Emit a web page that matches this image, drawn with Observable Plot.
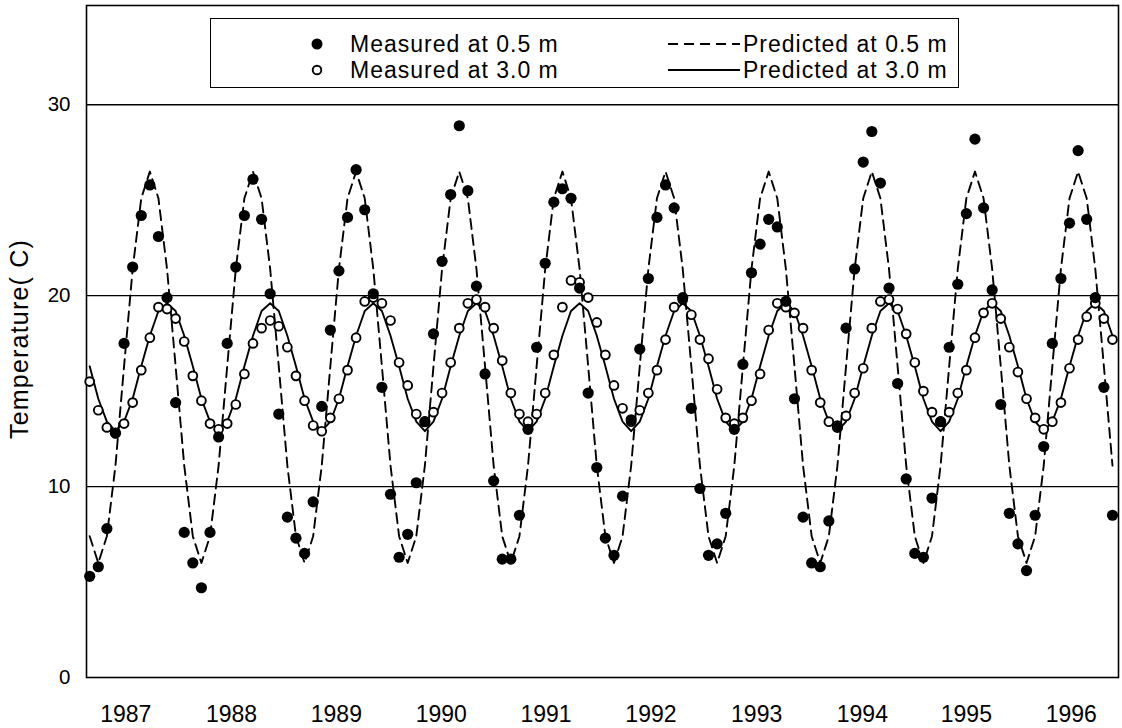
<!DOCTYPE html>
<html><head><meta charset="utf-8">
<script src="https://cdn.jsdelivr.net/npm/d3@7"></script>
<script src="https://cdn.jsdelivr.net/npm/@observablehq/plot@0.6"></script>
<style>
body{margin:0;background:#fff;font-family:"Liberation Sans",Arial,sans-serif;color:#000;}
#wrap{position:relative;width:1122px;height:728px;overflow:hidden;}
#legend{position:absolute;left:210px;top:18px;width:749px;height:70px;border:1.5px solid #000;background:#fff;box-sizing:border-box;font-size:23px;letter-spacing:1px;}
#legend .sym,#legend .txt{position:absolute;display:flex;align-items:center;height:26px;white-space:nowrap;}
#legend svg{display:block;}
</style></head>
<body>
<div id="wrap">
  <div id="chart"></div>
  <div id="legend"></div>
</div>
<script>
// Monthly samples (index 0 = first sample at left of plot)
const measured05 = [
5.3,5.8,7.8,12.8,17.5,21.5,24.2,25.8,23.1,19.9,14.4,7.6,
6.0,4.7,7.6,12.6,17.5,21.5,24.2,26.1,24.0,20.1,13.8,8.4,
7.3,6.5,9.2,14.2,18.2,21.3,24.1,26.6,24.5,20.1,15.2,9.6,
6.3,7.5,10.2,13.4,18.0,21.8,25.3,28.9,25.5,20.5,15.9,10.3,
6.2,6.2,8.5,13.0,17.3,21.7,24.9,25.6,25.1,20.4,14.9,11.0,
7.3,6.4,9.5,13.5,17.2,20.9,24.1,25.8,24.6,19.9,14.1,9.9,
6.4,7.0,8.6,13.0,16.4,21.2,22.7,24.0,23.6,19.7,14.6,8.4,
6.0,5.8,8.2,13.1,18.3,21.4,27.0,28.6,25.9,20.4,15.4,10.4,
6.5,6.3,9.4,13.4,17.3,20.6,24.3,28.2,24.6,20.3,14.3,8.6,
7.0,5.6,8.5,12.1,17.5,20.9,23.8,27.6,24.0,19.9,15.2,8.5];

const measured30 = [
15.5,14.0,13.1,12.8,13.3,14.4,16.1,17.8,19.4,19.3,18.8,17.6,
15.8,14.5,13.3,13.0,13.3,14.3,15.9,17.5,18.3,18.7,18.4,17.3,
15.8,14.5,13.2,12.9,13.6,14.6,16.1,17.8,19.7,19.9,19.6,18.7,
16.5,15.3,13.8,13.4,13.9,14.9,16.5,18.3,19.6,19.8,19.4,18.3,
16.6,14.9,13.8,13.4,13.8,14.9,16.9,19.4,20.8,20.7,19.9,18.6,
16.9,15.3,14.1,13.4,14.0,14.9,16.1,17.7,19.4,19.8,19.0,17.7,
16.7,15.1,13.6,13.3,13.6,14.5,15.9,18.2,19.6,19.4,19.1,18.3,
16.1,14.4,13.4,13.2,13.7,14.9,16.2,18.3,19.7,19.8,19.3,18.0,
16.5,15.0,13.9,13.4,13.9,14.9,16.1,17.8,19.1,19.6,18.8,17.3,
16.0,14.6,13.6,13.0,13.4,14.4,16.2,17.7,18.9,19.6,18.8,17.7];

const predicted05 = [
7.4,6.0,7.4,11.1,16.3,21.4,25.1,26.5,25.1,21.4,16.3,11.1,
7.4,6.0,7.4,11.1,16.3,21.4,25.1,26.5,25.1,21.4,16.3,11.1,
7.4,6.0,7.4,11.1,16.3,21.4,25.1,26.5,25.1,21.4,16.3,11.1,
7.4,6.0,7.4,11.1,16.3,21.4,25.1,26.5,25.1,21.4,16.3,11.1,
7.4,6.0,7.4,11.1,16.3,21.4,25.1,26.5,25.1,21.4,16.3,11.1,
7.4,6.0,7.4,11.1,16.3,21.4,25.1,26.5,25.1,21.4,16.3,11.1,
7.4,6.0,7.4,11.1,16.3,21.4,25.1,26.5,25.1,21.4,16.3,11.1,
7.4,6.0,7.4,11.1,16.3,21.4,25.1,26.5,25.1,21.4,16.3,11.1,
7.4,6.0,7.4,11.1,16.3,21.4,25.1,26.5,25.1,21.4,16.3,11.1,
7.4,6.0,7.4,11.1,16.3,21.4,25.1,26.5,25.1,21.4,16.3,11.1];

const predicted30 = [
16.3,14.6,13.4,12.9,13.4,14.6,16.3,17.9,19.2,19.6,19.2,17.9,
16.3,14.6,13.4,12.9,13.4,14.6,16.3,17.9,19.2,19.6,19.2,17.9,
16.3,14.6,13.4,12.9,13.4,14.6,16.3,17.9,19.2,19.6,19.2,17.9,
16.3,14.6,13.4,12.9,13.4,14.6,16.3,17.9,19.2,19.6,19.2,17.9,
16.3,14.6,13.4,12.9,13.4,14.6,16.3,17.9,19.2,19.6,19.2,17.9,
16.3,14.6,13.4,12.9,13.4,14.6,16.3,17.9,19.2,19.6,19.2,17.9,
16.3,14.6,13.4,12.9,13.4,14.6,16.3,17.9,19.2,19.6,19.2,17.9,
16.3,14.6,13.4,12.9,13.4,14.6,16.3,17.9,19.2,19.6,19.2,17.9,
16.3,14.6,13.4,12.9,13.4,14.6,16.3,17.9,19.2,19.6,19.2,17.9,
16.3,14.6,13.4,12.9,13.4,14.6,16.3,17.9,19.2,19.6,19.2,17.9];

// Year labels and their positions on the month-index axis (as placed in the original)
const yearLabels = ["1987","1988","1989","1990","1991","1992","1993","1994","1995","1996"];
const yearTickPos = [4.2,16.5,28.7,40.9,53.1,65.3,77.6,89.9,102.0,114.2];
const yTicks = [0,10,20,30];
const gridValues = [10,20,30];
const yTitle = "Temperature( C)";
const seriesNames = ["Measured at 0.5 m","Measured at 3.0 m","Predicted at 0.5 m","Predicted at 3.0 m"];

const rows = measured05.map((v,i) => ({i, m05:v, m30:measured30[i], p05:predicted05[i], p30:predicted30[i]}));

const chart = Plot.plot({
  width:1122, height:728,
  marginLeft:86, marginRight:4, marginTop:5, marginBottom:51,
  x:{domain:[-0.37,119.7]},
  y:{domain:[0,35.2]},
  style:{fontFamily:'"Liberation Sans",Arial,sans-serif', fontSize:"20px", color:"#000", background:"#fff"},
  marks:[
    Plot.ruleY(gridValues,{stroke:"#000",strokeWidth:1.3}),
    Plot.frame({stroke:"#000",strokeWidth:1.6}),
    Plot.axisX({ticks:yearTickPos, tickFormat:d => yearLabels[yearTickPos.indexOf(d)], tickSize:0, tickPadding:28, label:null, fontSize:23}),
    Plot.axisY({ticks:yTicks, tickSize:0, tickPadding:16, label:null, fontSize:20.5}),
    Plot.line(rows,{x:"i",y:"p05",stroke:"#000",strokeWidth:1.9,strokeDasharray:"10,6"}),
    Plot.line(rows,{x:"i",y:"p30",stroke:"#000",strokeWidth:1.9}),
    Plot.dot(rows,{x:"i",y:"m30",r:4.4,stroke:"#000",strokeWidth:1.9,fill:"#fff"}),
    Plot.dot(rows,{x:"i",y:"m05",r:5.6,fill:"#000",stroke:"none"})
  ]
});
document.getElementById("chart").appendChild(chart);

// Y-axis title
d3.select(chart).append("text")
  .attr("transform","translate(28,339) rotate(-90)")
  .attr("text-anchor","middle")
  .attr("font-size",25)
  .attr("letter-spacing",1.2)
  .attr("fill","#000")
  .text(yTitle);

// Legend
const legend = document.getElementById("legend");
const rowsY = [25,51];
const items = [
  {symLeft:96, txtLeft:139, row:0, sym:'<svg width="20" height="20"><circle cx="10" cy="10" r="5.5" fill="#000"/></svg>', text:seriesNames[0]},
  {symLeft:96, txtLeft:139, row:1, sym:'<svg width="20" height="20"><circle cx="10" cy="10" r="4.3" fill="#fff" stroke="#000" stroke-width="1.9"/></svg>', text:seriesNames[1]},
  {symLeft:457, txtLeft:532, row:0, sym:'<svg width="73" height="20"><line x1="0" y1="10" x2="72" y2="10" stroke="#000" stroke-width="1.9" stroke-dasharray="10,6"/></svg>', text:seriesNames[2]},
  {symLeft:457, txtLeft:532, row:1, sym:'<svg width="73" height="20"><line x1="0" y1="10" x2="72" y2="10" stroke="#000" stroke-width="1.9"/></svg>', text:seriesNames[3]}
];
for (const it of items) {
  const s = document.createElement("div");
  s.className = "sym";
  s.style.left = it.symLeft + "px";
  s.style.top = (rowsY[it.row] - 13) + "px";
  s.innerHTML = it.sym;
  legend.appendChild(s);
  const t = document.createElement("div");
  t.className = "txt";
  t.style.left = it.txtLeft + "px";
  t.style.top = (rowsY[it.row] - 13) + "px";
  t.textContent = it.text;
  legend.appendChild(t);
}
</script>
</body></html>
